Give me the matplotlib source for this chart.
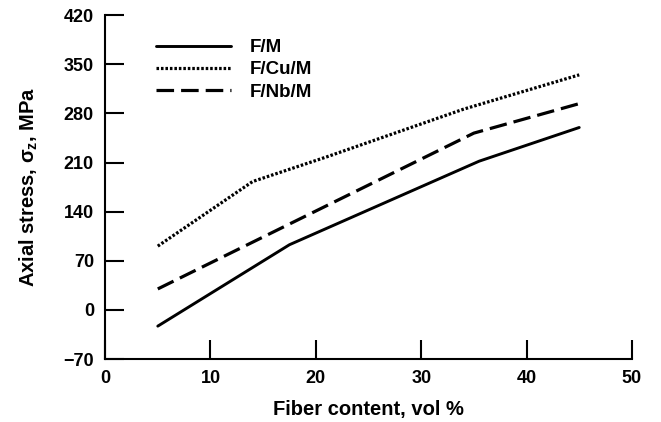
import matplotlib
matplotlib.use("Agg")
import matplotlib.pyplot as plt

# Data
fm_x = [5, 17.5, 35.5, 45]
fm_y = [-23, 93, 212, 260]
fcu_x = [5, 14, 21, 34, 45]
fcu_y = [91, 183, 218, 286, 335]
fnb_x = [5, 35, 45]
fnb_y = [30, 252, 294]
labels = ["F/M", "F/Cu/M", "F/Nb/M"]
xticks = [0, 10, 20, 30, 40, 50]
yticks = [-70, 0, 70, 140, 210, 280, 350, 420]

plt.rcParams['font.family'] = ['Liberation Sans', 'DejaVu Sans']
plt.rcParams['font.weight'] = 'bold'
plt.rcParams['mathtext.fontset'] = 'custom'
plt.rcParams['mathtext.rm'] = 'Liberation Sans:bold'
plt.rcParams['mathtext.it'] = 'Liberation Sans:bold'
plt.rcParams['mathtext.bf'] = 'Liberation Sans:bold'

fig = plt.figure(figsize=(6.61, 4.22), dpi=100)
ax = fig.add_axes([0.159, 0.149, 0.797, 0.815])

ax.plot(fm_x, fm_y, color='black', lw=2.1, solid_capstyle='round', label=labels[0])
ax.plot(fcu_x, fcu_y, color='black', lw=2.3, linestyle=(0, (0.8, 0.6)), label=labels[1])
ax.plot(fnb_x, fnb_y, color='black', lw=2.3, linestyle=(0, (5.5, 2.2)), label=labels[2])

ax.set_xlim(0, 50)
ax.set_ylim(-70, 420)
ax.set_xticks(xticks)
ax.set_yticks(yticks)
ax.set_yticklabels([str(v).replace('-', '\u2212') for v in yticks])
ax.tick_params(direction='in', length=13.5, width=1.5, labelsize=13, pad=8)
for s in ['top', 'right']:
    ax.spines[s].set_visible(False)
for s in ['left', 'bottom']:
    ax.spines[s].set_linewidth(1.5)

ax.set_xlabel('Fiber content, vol %', fontsize=14.5, fontweight='bold', labelpad=9)
ax.set_ylabel(r'Axial stress, $\sigma_z$, MPa', fontsize=14.5, fontweight='bold', labelpad=17)

leg = ax.legend(loc='upper left', bbox_to_anchor=(0.065, 0.98), frameon=False,
                fontsize=13.5, handlelength=4.0, handletextpad=1.0, labelspacing=0.28)

fig.savefig('out.png', dpi=100)
